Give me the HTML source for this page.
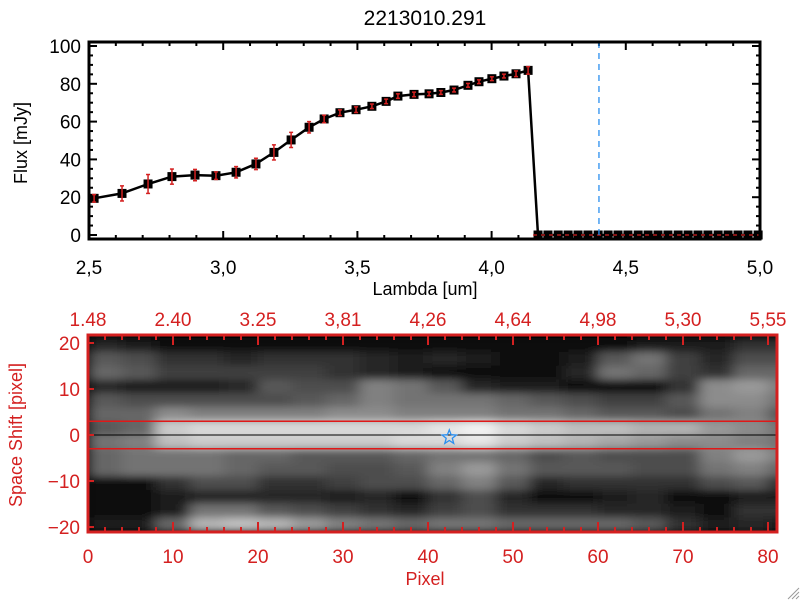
<!DOCTYPE html>
<html><head><meta charset="utf-8"><style>
body{margin:0;background:#fff;width:800px;height:600px;overflow:hidden}
svg{display:block;font-family:"Liberation Sans",sans-serif}
</style></head><body>
<svg id="c" width="800" height="600">
<defs><filter id="bl" x="-0.05" y="-0.1" width="1.1" height="1.2"><feGaussianBlur stdDeviation="7 4"/></filter>
<clipPath id="imgclip"><rect x="88" y="335" width="689" height="197"/></clipPath></defs>
<g id="top"></g>
<g id="bot"></g>
</svg>
<script>
// ---- spectrum data ----
const lambdas=[2.519,2.623,2.720,2.809,2.895,2.973,3.048,3.122,3.189,3.253,3.320,3.376,3.435,3.495,3.554,3.607,3.651,3.711,3.767,3.811,3.860,3.912,3.953,4.001,4.046,4.091,4.136];
const flux=[19.4,22,27,30.9,31.7,31.4,33.2,37.6,43.7,50.3,57,61.4,64.7,66.3,68.1,70.7,73.5,74.4,74.7,75.4,76.7,79.2,81.1,82.7,84.1,85.3,87.1];
const fluxErr=[2,4,5,4,3,2,3,3,4,4,3,2,1.5,1.5,1.2,1.2,1.2,1.2,1,1,1,1,1,1,1,1.5,2];
const zeroLambdas=[4.173,4.210,4.248,4.285,4.322,4.359,4.397,4.434,4.471,4.508,4.546,4.583,4.620,4.657,4.695,4.732,4.769,4.806,4.844,4.881,4.918,4.955,4.993];
const xTicks=[2.5,3.0,3.5,4.0,4.5,5.0];
const xTickLabels=["2,5","3,0","3,5","4,0","4,5","5,0"];
const yTicks=[0,20,40,60,80,100];
const markerLambda=4.40;
// ---- image data ----
const pixTicks=[0,10,20,30,40,50,60,70,80];
const lamTickLabels=["1.48","2.40","3.25","3,81","4,26","4,64","4,98","5,30","5,55"];
const shiftTicks=[20,10,0,-10,-20];
const apertureRows=[3,-3];
const starPos=[42.5,-0.5];
const imgRows=[
[.15,.1,.05,.05,.05,.05,.05,.05,.05,.05,.05,.05,.05,.05,.05,.05,.1,.1,.1,.2,.2],
[.35,.3,.2,.2,.15,.2,.2,.2,.15,.1,.15,.1,.05,.05,.1,.35,.45,.25,.15,.3,.3],
[.4,.35,.25,.25,.25,.25,.25,.2,.15,.1,.05,.05,.05,.05,.15,.45,.4,.25,.2,.4,.4],
[.15,.1,.1,.1,.15,.35,.3,.3,.5,.45,.35,.15,.1,.1,.05,.05,.05,.2,.55,.6,.5],
[.35,.3,.3,.3,.3,.3,.35,.4,.5,.45,.45,.45,.4,.35,.3,.25,.25,.35,.55,.55,.45],
[.4,.4,.55,.5,.5,.5,.5,.55,.55,.5,.5,.5,.45,.45,.4,.35,.35,.3,.45,.5,.35],
[.35,.4,.8,.85,.85,.85,.85,.85,.85,.85,.9,.95,.85,.8,.75,.75,.7,.7,.6,.55,.45],
[.45,.5,.75,.8,.8,.8,.8,.8,.8,.85,.85,.9,.8,.75,.7,.65,.6,.55,.55,.5,.45],
[.4,.45,.45,.45,.4,.4,.35,.35,.35,.4,.45,.45,.4,.3,.35,.3,.3,.3,.5,.6,.5],
[.4,.45,.45,.45,.4,.35,.35,.3,.3,.35,.5,.6,.45,.35,.35,.35,.3,.3,.45,.5,.4],
[.05,.05,.2,.3,.3,.2,.2,.25,.3,.3,.4,.5,.35,.15,.2,.2,.2,.2,.3,.35,.2],
[.05,.05,.1,.15,.15,.15,.15,.1,.15,.05,.2,.3,.15,.05,.05,.1,.15,.05,.05,.1,.1],
[.05,.05,.1,.45,.45,.35,.3,.25,.2,.15,.25,.3,.2,.2,.2,.15,.15,.1,.05,.2,.2],
[.1,.1,.4,.7,.75,.7,.6,.5,.45,.4,.45,.45,.4,.4,.4,.4,.35,.2,.1,.15,.1]];

const NS="http://www.w3.org/2000/svg";
function mk(p,t,a,txt){const e=document.createElementNS(NS,t);for(const k in a)e.setAttribute(k,a[k]);if(txt!==undefined)e.textContent=txt;p.appendChild(e);return e;}
const R="#d42020";
// ---- top plot ----
const T=document.getElementById('top');
const L=89,Rr=760,Tp=42,B=239;
const sx=v=>L+(v-2.5)/2.5*(Rr-L);
const sy=v=>235-v*1.89;
let t=mk(T,'text',{x:425,y:25,'text-anchor':'middle','font-size':21},'2213010.291');

for(let v=2.5;v<=5.001;v+=0.1){const x=sx(v);const maj=Math.abs(v*2-Math.round(v*2))<1e-6;const len=maj?8:4;
 mk(T,'line',{x1:x,y1:B,x2:x,y2:B-len,stroke:'#000','stroke-width':2});mk(T,'line',{x1:x,y1:Tp,x2:x,y2:Tp+len,stroke:'#000','stroke-width':2});}
for(let v=0;v<=100;v+=5){const y=sy(v);const len=v%20==0?8:4;
 mk(T,'line',{x1:L,y1:y,x2:L+len,y2:y,stroke:'#000','stroke-width':2});mk(T,'line',{x1:Rr,y1:y,x2:Rr-len,y2:y,stroke:'#000','stroke-width':2});}
xTicks.forEach((v,i)=>{const e=mk(T,'text',{x:sx(v),y:274,'text-anchor':'middle','font-size':19},xTickLabels[i]);
 });
yTicks.forEach(v=>{const e=mk(T,'text',{x:81,y:sy(v)+7,'text-anchor':'end','font-size':19},String(v));
 });
t=mk(T,'text',{x:425,y:295,'text-anchor':'middle','font-size':18},'Lambda [um]');

t=mk(T,'text',{x:0,y:0,'text-anchor':'middle','font-size':18,transform:'translate(27,143) rotate(-90)'},'Flux [mJy]');

const allX=lambdas.concat(zeroLambdas),allY=flux.concat(zeroLambdas.map(()=>0));
let d=allX.map((v,i)=>(i?'L':'M')+sx(v).toFixed(1)+' '+sy(allY[i]).toFixed(1)).join(' ');
t=mk(T,'path',{d:d,fill:'none',stroke:'#000','stroke-width':2.5});

allX.forEach((v,i)=>{const e=mk(T,'rect',{x:sx(v)-4.5,y:sy(allY[i])-4.5,width:9,height:9,fill:'#000'});
 });
lambdas.forEach((v,i)=>{const x=sx(v),y1=sy(flux[i]+fluxErr[i]),y2=sy(flux[i]-fluxErr[i]);
 const g=mk(T,'g',{stroke:R,'stroke-width':1.5});
 
 mk(g,'line',{x1:x,y1:y1,x2:x,y2:y2});mk(g,'line',{x1:x-2,y1:y1,x2:x+2,y2:y1});mk(g,'line',{x1:x-2,y1:y2,x2:x+2,y2:y2});});
t=mk(T,'line',{x1:sx(zeroLambdas[0])-5,y1:sy(0),x2:Rr,y2:sy(0),stroke:R,'stroke-width':1.3,'stroke-dasharray':'4,4'});

t=mk(T,'line',{x1:sx(markerLambda),y1:Tp,x2:sx(markerLambda),y2:B,stroke:'#2a8ff0','stroke-width':1.3,'stroke-dasharray':'6,5'});

t=mk(T,'rect',{x:L,y:Tp,width:Rr-L,height:B-Tp,fill:'none',stroke:'#000','stroke-width':3});


// ---- bottom plot ----
const G=document.getElementById('bot');
const BL=88,BR=777,BT=335,BB=532;
const px=v=>BL+v*8.5;
const py=v=>435-v*4.6;
const img=mk(G,'g',{'clip-path':'url(#imgclip)'});
mk(img,'rect',{x:BL,y:BT,width:BR-BL,height:BB-BT,fill:'#000'});
const blur=mk(img,'g',{filter:'url(#bl)'});
imgRows.forEach((row,r)=>{row.forEach((v,c)=>{const g=Math.round(Math.min(1,v)*255);
 const e=mk(blur,'rect',{x:px(c*4)-0.3,y:py(21-r*3)-0.3,width:4*8.5+0.6,height:3*4.6+0.6,fill:`rgb(${g},${g},${g})`});
 });});
apertureRows.forEach(v=>{const e=mk(G,'line',{x1:BL,y1:py(v),x2:BR,y2:py(v),stroke:'#e01818','stroke-width':1.5});
 });
t=mk(G,'line',{x1:BL,y1:py(0),x2:BR,y2:py(0),stroke:'#000','stroke-width':1});

(function(){const cx=px(starPos[0]),cy=py(starPos[1]);let pts=[];for(let k=0;k<10;k++){const a=-Math.PI/2+k*Math.PI/5,rr=k%2?3.2:7.5;pts.push((cx+rr*Math.cos(a)).toFixed(1)+','+(cy+rr*Math.sin(a)).toFixed(1));}
 const e=mk(G,'polygon',{points:pts.join(' '),fill:'none',stroke:'#2a8ff0','stroke-width':1.3});
 })();
for(let v=0;v<=81;v+=2){const x=px(v);const len=v%10==0?10:5;
 mk(G,'line',{x1:x,y1:BB,x2:x,y2:BB-len,stroke:R,'stroke-width':2});mk(G,'line',{x1:x,y1:BT,x2:x,y2:BT+len,stroke:R,'stroke-width':2});}
for(let v=-20;v<=20;v+=10){mk(G,'line',{x1:BL,y1:py(v),x2:BL+6,y2:py(v),stroke:R,'stroke-width':2});}
t=mk(G,'rect',{x:BL,y:BT,width:BR-BL,height:BB-BT,fill:'none',stroke:R,'stroke-width':3});

pixTicks.forEach((v,i)=>{let e=mk(G,'text',{x:px(v),y:563,'text-anchor':'middle','font-size':19,fill:R},String(v));
 
 e=mk(G,'text',{x:px(v),y:326,'text-anchor':'middle','font-size':19,fill:R},lamTickLabels[i]);
 });
shiftTicks.forEach(v=>{const e=mk(G,'text',{x:80,y:py(v)+7,'text-anchor':'end','font-size':19,fill:R},v<0?'\u2212'+(-v):String(v));
 });
t=mk(G,'text',{x:425,y:585,'text-anchor':'middle','font-size':18,fill:R},'Pixel');

t=mk(G,'text',{x:0,y:0,'text-anchor':'middle','font-size':18,fill:R,transform:'translate(22,435) rotate(-90)'},'Space Shift [pixel]');

const gr=mk(G,'g',{stroke:'#999','stroke-width':1});

[4,8,12].forEach(o=>mk(gr,'line',{x1:800-o,y1:599,x2:799,y2:600-o}));
</script>
</body></html>
